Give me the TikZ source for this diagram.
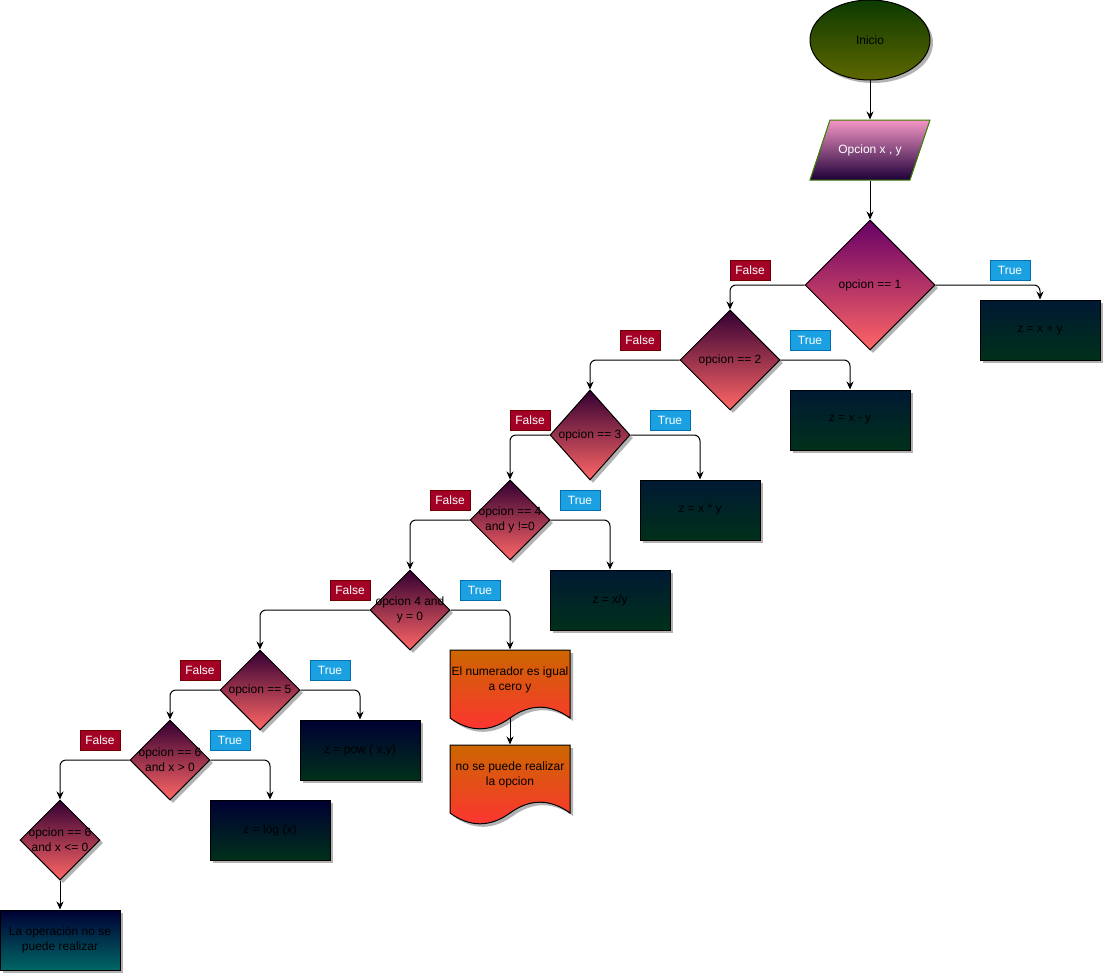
\documentclass[tikz,border=0pt]{standalone}
\usepackage{fontspec}
\setmainfont{Liberation Sans}
\usetikzlibrary{shapes.geometric,shadows,arrows.meta}
\definecolor{verdeA}{HTML}{0C3A00}
\definecolor{verdeB}{HTML}{5E6700}
\definecolor{rosaA}{HTML}{F496C6}
\definecolor{rosaB}{HTML}{1E0038}
\definecolor{bordeV}{HTML}{3A7F00}
\definecolor{moradoA}{HTML}{660066}
\definecolor{moradoB}{HTML}{330033}
\definecolor{salmon}{HTML}{FF6666}
\definecolor{azulA}{HTML}{001933}
\definecolor{azulB}{HTML}{000033}
\definecolor{verdeO}{HTML}{00301A}
\definecolor{turquesa}{HTML}{006666}
\definecolor{naranja}{HTML}{CC6600}
\definecolor{rojoD}{HTML}{FF3333}
\definecolor{rojoF}{HTML}{A20025}
\definecolor{rojoFb}{HTML}{6F0000}
\definecolor{azulT}{HTML}{1BA1E2}
\definecolor{azulTb}{HTML}{006EAF}
\begin{document}
\begin{tikzpicture}[x=1pt,y=-1pt,line width=1pt,font=\fontsize{12}{15}\selectfont,
	sombra/.style={drop shadow={shadow xshift=3pt,shadow yshift=-3pt,fill=black,opacity=0.3}},
	decision/.style={diamond,draw,inner sep=0pt,top color=moradoB,bottom color=salmon,sombra},
	proceso/.style={rectangle,draw,minimum width=120,minimum height=60,top color=azulA,bottom color=verdeO,sombra},
	falso/.style={rectangle,draw=rojoFb,fill=rojoF,text=white,minimum width=40,minimum height=20,inner sep=0pt},
	cierto/.style={rectangle,draw=azulTb,fill=azulT,text=white,minimum width=40,minimum height=20,inner sep=0pt},
	flecha/.style={->,>={Stealth[length=8pt,width=7pt]},rounded corners=6pt}]
	\useasboundingbox (0,0) rectangle (1103,974);
	\node[ellipse,draw,minimum width=120,minimum height=80,top color=verdeA,bottom color=verdeB,sombra] (ini) at (870,40) {Inicio};
	\path[draw=bordeV,top color=rosaA,bottom color=rosaB] (830,120) -- (930,120) -- (910,180) -- (810,180) -- cycle;
	\node[minimum width=100,minimum height=60,text=white] (dat) at (870,150) {Opcion x , y};
	\node[decision,minimum width=130,minimum height=130,top color=moradoA,label={center:opcion == 1}] (d1) at (870,285) {};
	\node[decision,minimum width=100,minimum height=100,label={center:opcion == 2}] (d2) at (730,360) {};
	\node[decision,minimum width=80,minimum height=90,label={center:opcion == 3}] (d3) at (590,435) {};
	\node[decision,minimum width=80,minimum height=80,label={[align=center]center:{opcion == 4\\and y !=0}}] (d4) at (510,520) {};
	\node[decision,minimum width=80,minimum height=80,label={[align=center]center:{opcion 4 and\\y = 0}}] (d5) at (410,610) {};
	\node[decision,minimum width=80,minimum height=80,label={center:opcion == 5}] (d6) at (260,690) {};
	\node[decision,minimum width=80,minimum height=80,label={[align=center]center:{opcion == 6\\and x > 0}}] (d7) at (170,760) {};
	\node[decision,minimum width=80,minimum height=80,label={[align=center]center:{opcion == 6\\and x <= 0}}] (d8) at (60,840) {};
	\node[proceso] (b1) at (1040,330) {z = x + y};
	\node[proceso] (b2) at (850,420) {z = x - y};
	\node[proceso] (b3) at (700,510) {z = x * y};
	\node[proceso] (b4) at (610,600) {z = x/y};
	\node[proceso,top color=azulB] (b5) at (360,750) {z = pow ( x,y)};
	\node[proceso,top color=azulB] (b6) at (270,830) {z = log (x)};
	\node[proceso,top color=azulB,bottom color=turquesa,align=center] (b7) at (60,940) {La operación no se\\puede realizar};
	\path[draw,top color=naranja,bottom color=rojoD,sombra] (450,650) -- (570,650) -- (570,718) .. controls (550,703.6) and (530,703.6) .. (510,718) .. controls (490,732.4) and (470,732.4) .. (450,718) -- cycle;
	\node[minimum width=120,minimum height=60,align=center] (doc1) at (510,680) {El numerador es igual\\a cero y};
	\coordinate (ola1) at (510,718);
	\path[draw,top color=naranja,bottom color=rojoD,sombra] (450,745) -- (570,745) -- (570,813) .. controls (550,798.6) and (530,798.6) .. (510,813) .. controls (490,827.4) and (470,827.4) .. (450,813) -- cycle;
	\node[minimum width=120,minimum height=60,align=center] (doc2) at (510,775) {no se puede realizar\\la opcion};
	\node[falso] (f1) at (750,270) {False};
	\node[cierto] (t1) at (1010,270) {True};
	\node[falso] (f2) at (640,340) {False};
	\node[cierto] (t2) at (810,340) {True};
	\node[falso] (f3) at (530,420) {False};
	\node[cierto] (t3) at (670,420) {True};
	\node[falso] (f4) at (450,500) {False};
	\node[cierto] (t4) at (580,500) {True};
	\node[falso] (f5) at (350,590) {False};
	\node[cierto] (t5) at (480,590) {True};
	\node[falso] (f6) at (200,670) {False};
	\node[cierto] (t6) at (330,670) {True};
	\node[falso] (f7) at (100,740) {False};
	\node[cierto] (t7) at (230,740) {True};
	\draw[flecha] (ini.south) -- (dat.north);
	\draw[flecha] (dat.south) -- (d1.north);
	\draw[flecha] (d1.east) -| (b1.north);
	\draw[flecha] (d1.west) -| (d2.north);
	\draw[flecha] (d2.east) -| (b2.north);
	\draw[flecha] (d2.west) -| (d3.north);
	\draw[flecha] (d3.east) -| (b3.north);
	\draw[flecha] (d3.west) -| (d4.north);
	\draw[flecha] (d4.east) -| (b4.north);
	\draw[flecha] (d4.west) -| (d5.north);
	\draw[flecha] (d5.east) -| (doc1.north);
	\draw[flecha] (d5.west) -| (d6.north);
	\draw[flecha] (d6.east) -| (b5.north);
	\draw[flecha] (d6.west) -| (d7.north);
	\draw[flecha] (d7.east) -| (b6.north);
	\draw[flecha] (d7.west) -| (d8.north);
	\draw[flecha] (d8.south) -- (b7.north);
	\draw[flecha] (ola1) -- (doc2.north);
\end{tikzpicture}
\end{document}
